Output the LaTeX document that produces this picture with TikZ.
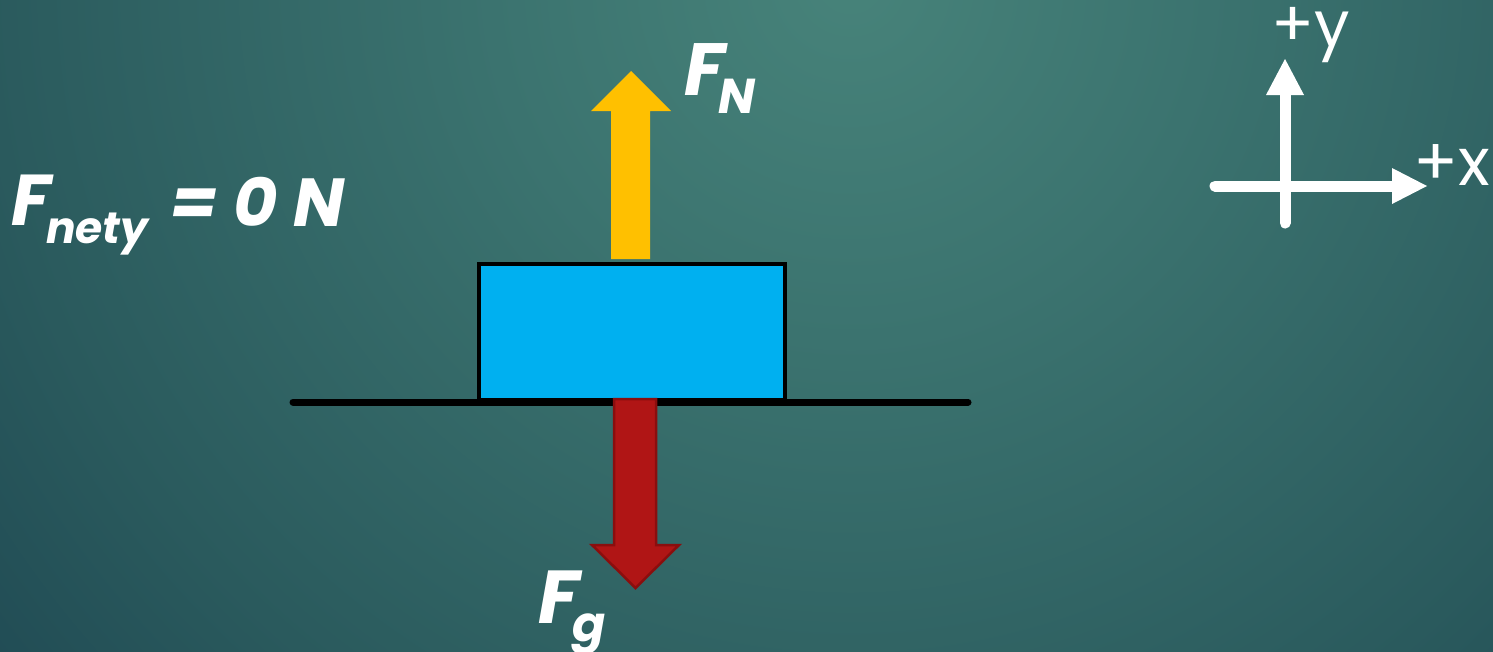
\documentclass[tikz,border=0pt]{standalone}
\usepackage{fontspec}
\setmainfont{Poppins}
\usetikzlibrary{arrows.meta}
\definecolor{bginner}{HTML}{47837A}
\definecolor{bgmid}{HTML}{3B736F}
\definecolor{bgouter}{HTML}{2A5A5D}
\definecolor{bgdark}{HTML}{1F4953}
\definecolor{fnyellow}{HTML}{FFC000}
\definecolor{blockblue}{HTML}{00B0F0}
\definecolor{fgred}{HTML}{B01515}
\definecolor{fgredborder}{HTML}{8A0E0E}
\pgfdeclareradialshading{bgrad}{\pgfpoint{0bp}{0bp}}{%
  color(0bp)=(bginner); color(5bp)=(bgmid); color(12bp)=(bgouter); color(16bp)=(bgdark); color(50bp)=(bgdark)}
\tikzset{
  lbl/.style={inner sep=0pt, anchor=base west, text=white, font=\bfseries\itshape},
  axlbl/.style={inner sep=0pt, anchor=base west, text=white},
  axisline/.style={draw=white, line width=11pt, line cap=round},
  axishead/.style={fill=white},
}
\newcommand{\fsz}[1]{\fontsize{#1pt}{#1pt}\selectfont}
\begin{document}
\begin{tikzpicture}[x=1pt,y=-1pt]
\useasboundingbox (0,0) rectangle (1493,651);
\begin{scope}
\clip (0,0) rectangle (1493,651);
\shade[shading=bgrad] (850,-20) circle[radius=1800];
\end{scope}
% ground
\coordinate (gl) at (293,402);
\coordinate (gr) at (968,402);
\draw[line width=7pt, line cap=round] (gl) -- (gr);
% block
\node[draw=black, line width=4pt, fill=blockblue, minimum width=306pt, minimum height=136pt, inner sep=0pt] (block) at (632,332) {};
% red arrow (gravity)
\filldraw[fill=fgred, draw=fgredborder, line width=2.5pt, line join=miter]
  (614,399) -- (656,399) -- (656,545) -- (679,545) -- (635.5,588) -- (592,545) -- (614,545) -- cycle;
% yellow arrow (normal)
\fill[fnyellow]
  (611,259) -- (611,111) -- (591,111) -- (631,71) -- (671,111) -- (650,111) -- (650,259) -- cycle;
% labels
\node[lbl] (fn) at (684,95) {\fsz{74}F};
\node[lbl] (fnsub) at (718,113) {\fsz{49}N};
\node[lbl] (fg) at (538,623) {\fsz{75}F};
\node[lbl] (fgsub) at (572,641) {\fsz{49}g};
\node[lbl] (fnet) at (11,225) {\fsz{72}F};
\node[lbl] (fnetsub) at (46,243) {\fsz{44}nety};
\node[lbl] (fneteq) at (170,226) {\fsz{68}= 0 N};
% axes
\coordinate (yb) at (1285,223);
\coordinate (yt) at (1285,95);
\coordinate (xl) at (1215,186);
\coordinate (xr) at (1392,186);
\draw[axisline] (yb) -- (yt);
\fill[axishead] (1266,95) -- (1285,59) -- (1304,95) -- cycle;
\draw[axisline] (xl) -- (xr);
\fill[axishead] (1392,168) -- (1427,186) -- (1392,204) -- cycle;
\node[axlbl] (ylbl) at (1271,46) {\fsz{63}+y};
\node[axlbl] (xlbl) at (1413,185) {\fsz{66}+x};
\end{tikzpicture}
\end{document}
